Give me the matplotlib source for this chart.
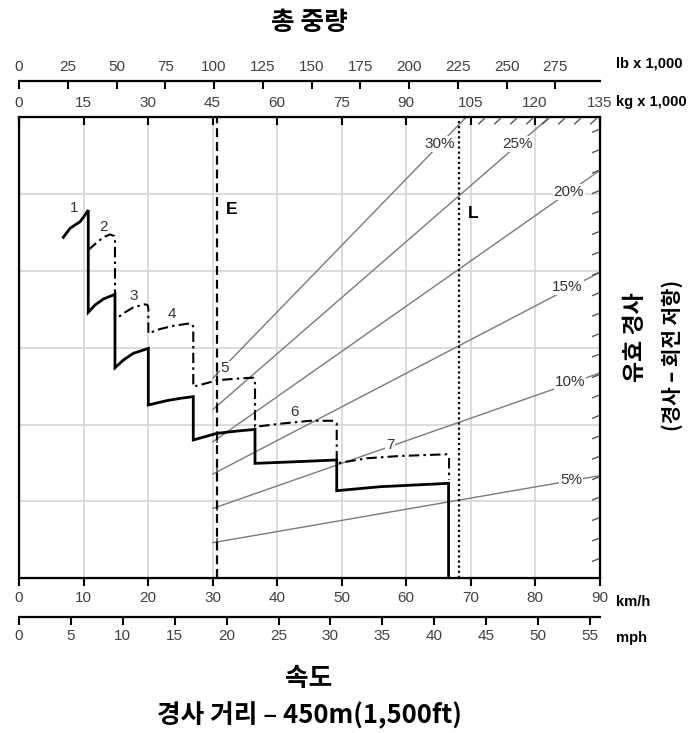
import matplotlib

matplotlib.use("Agg")
import matplotlib.pyplot as plt
import numpy as np
from matplotlib.collections import LineCollection

plt.rcParams["font.family"] = ["Liberation Sans", "Noto Sans CJK KR", "DejaVu Sans"]

# --- scales -----------------------------------------------------------------
KMH_TICKS = [0, 10, 20, 30, 40, 50, 60, 70, 80, 90]
MPH_TICKS = [0, 5, 10, 15, 20, 25, 30, 35, 40, 45, 50, 55]
KG_TICKS = [0, 15, 30, 45, 60, 75, 90, 105, 120, 135]
LB_TICKS = [0, 25, 50, 75, 100, 125, 150, 175, 200, 225, 250, 275]

# --- gear curves (x: km/h, y: chart units, 0..30) -----------------------------
solid_x = [6.87, 7.40, 7.91, 8.68, 9.46, 10.23, 10.74,
           10.74, 11.78, 13.07, 14.88,
           14.88, 16.17, 17.72, 20.05,
           20.05, 22.90, 24.96, 27.02,
           27.02, 30.65, 33.75, 36.59,
           36.59, 42.02, 49.26,
           49.26, 55.97, 66.60,
           66.60]
solid_y = [22.19, 22.49, 22.77, 22.99, 23.20, 23.64, 23.96,
           17.31, 17.78, 18.17, 18.48,
           13.70, 14.20, 14.64, 14.96,
           11.28, 11.56, 11.71, 11.82,
           9.00, 9.43, 9.58, 9.69,
           7.48, 7.57, 7.70,
           5.70, 5.96, 6.18,
           0.0]

dashdot_x = [10.74, 11.78, 13.07, 14.11, 14.77, 14.88, 14.88,
             14.88, 16.17, 17.72, 19.53, 19.92, 20.05, 20.05,
             21.86, 23.92, 26.51, 26.90, 27.02, 27.02,
             30.90, 35.04, 36.33, 36.59, 36.59,
             40.98, 45.12, 48.73, 49.26, 49.26,
             53.91, 59.07, 66.31, 66.67, 66.67]
dashdot_y = [21.36, 21.75, 22.19, 22.38, 22.27, 22.01, 18.54,
             16.81, 17.24, 17.63, 17.83, 17.78, 17.59, 15.94,
             16.22, 16.43, 16.59, 16.51, 16.35, 12.47,
             12.90, 13.03, 13.05, 12.90, 9.86,
             10.08, 10.25, 10.25, 10.08, 7.48,
             7.81, 7.96, 8.07, 7.89, 6.40]

gear_names = ["1", "2", "3", "4", "5", "6", "7"]
gear_lx = [8.53, 13.07, 17.72, 23.67, 31.94, 42.79, 57.52]
gear_ly = [24.07, 22.88, 18.37, 17.20, 13.66, 10.84, 8.67]

# --- effective grade lines ---------------------------------------------------
grade_names = ["5%", "10%", "15%", "20%", "25%", "30%"]
grade_x0 = [30.08, 30.08, 30.08, 30.08, 30.08, 30.08]
grade_y0 = [2.32, 4.55, 6.79, 8.89, 10.99, 13.03]
grade_x1 = [90.0, 90.0, 90.0, 90.0, 82.23, 69.30]
grade_y1 = [6.67, 13.35, 19.90, 26.53, 30.0, 30.0]
grade_lx = [85.58, 85.43, 85.04, 85.27, 77.36, 65.19]
grade_ly = [6.40, 12.77, 18.95, 25.14, 28.26, 28.26]

E_SPEED = 30.74
L_SPEED = 68.26

W, H = 693, 733
fig = plt.figure(figsize=(W / 100, H / 100), dpi=100)


def fx(px):
    return px / W


def fy(py):
    return 1 - py / H


left, right, top, bottom = 19, 599.5, 117.3, 578.3
ax = fig.add_axes([fx(left), fy(bottom), (right - left) / W, (bottom - top) / H])
ax.set_xlim(0, 90)
ax.set_ylim(0, 30)
ax.set_xticks(KMH_TICKS)
ax.set_yticks([5, 10, 15, 20, 25])
ax.set_yticklabels([])
ax.tick_params(axis="y", length=0)
ax.tick_params(axis="x", direction="out", length=6, width=1.5, labelsize=11,
               labelcolor="#404040", pad=3)
ax.grid(color="#d6d6d6", lw=1.2)
ax.set_axisbelow(True)
for s in ax.spines.values():
    s.set_linewidth(1.6)

# grade lines
for x0, y0, x1, y1 in zip(grade_x0, grade_y0, grade_x1, grade_y1):
    ax.plot([x0, x1], [y0, y1], color="#7a7a7a", lw=1.0, zorder=2)
    yE = y0 + (y1 - y0) * (E_SPEED - x0) / (x1 - x0)
    ax.plot([E_SPEED], [yE], marker="|", ms=6, mew=1.2, color="#555555", zorder=2)
for name, lx, ly in zip(grade_names, grade_lx, grade_ly):
    ax.text(lx, ly, name, ha="center", va="center", fontsize=11, color="#333333",
            bbox=dict(facecolor="white", edgecolor="none", pad=0.5), zorder=3)

# E and L limits
ax.axvline(E_SPEED, color="black", lw=1.6, ls=(0, (4, 2.2)), zorder=4)
ax.axvline(L_SPEED, color="black", lw=1.6, ls=(0, (1, 1.3)), zorder=4)
ax.text(32.98, 24.01, "E", fontsize=12.5, fontweight="bold", ha="center", va="center")
ax.text(70.43, 23.75, "L", fontsize=12.5, fontweight="bold", ha="center", va="center")

# gear curves
ax.plot(dashdot_x, dashdot_y, color="black", lw=1.5, ls=(0, (5, 2, 1.2, 2)), zorder=5)
ax.plot(solid_x, solid_y, color="black", lw=2.0, zorder=6, solid_joinstyle="miter")
for name, lx, ly in zip(gear_names, gear_lx, gear_ly):
    ax.text(lx, ly, name, ha="center", va="center", fontsize=11, color="#333333",
            bbox=dict(facecolor="white", edgecolor="none", pad=0.3), zorder=3)

# hatch marks along right edge and top-right edge
hy = np.linspace(0.043, 0.974, 22)
segs = [[(1 - 7.5 / 580.5, y - 3 / 461), (1, y)] for y in hy]
hx = np.linspace(0.791, 0.984, 8)
segs += [[(x, 1 - 7 / 461), (x + 6.5 / 580.5, 1 - 1 / 461)] for x in hx]
ax.add_collection(LineCollection(segs, colors="#555555", lw=1.0,
                                 transform=ax.transAxes, zorder=3))

# kg scale on top of the box
ax_kg = ax.twiny()
ax_kg.set_xlim(0, 135)
ax_kg.set_xticks(KG_TICKS)
ax_kg.tick_params(axis="x", direction="in", length=6, width=1.5, labelsize=11,
                  labelcolor="#404040", pad=5)

# lb scale
ax_lb = fig.add_axes([fx(left), fy(80.7), (right - left) / W, 0.0001])
ax_lb.set_xlim(0, 135 * 2.20462)
ax_lb.set_xticks(LB_TICKS)
ax_lb.set_yticks([])
ax_lb.xaxis.tick_top()
ax_lb.tick_params(axis="x", direction="in", length=6, width=1.5, labelsize=11,
                  labelcolor="#404040", pad=5)
for k in ["left", "right", "bottom"]:
    ax_lb.spines[k].set_visible(False)
ax_lb.spines["top"].set_linewidth(1.6)
ax_lb.patch.set_visible(False)

# mph scale
ax_mph = fig.add_axes([fx(left), fy(616.7), (right - left) / W, 0.0001])
ax_mph.set_xlim(0, 90 / 1.609344)
ax_mph.set_xticks(MPH_TICKS)
ax_mph.set_yticks([])
ax_mph.tick_params(axis="x", direction="out", length=5.5, width=1.5, labelsize=11,
                   labelcolor="#404040", pad=3)
for k in ["left", "right", "top"]:
    ax_mph.spines[k].set_visible(False)
ax_mph.spines["bottom"].set_linewidth(1.6)
ax_mph.patch.set_visible(False)

# unit labels
for txt, py in [("lb x 1,000", 63), ("kg x 1,000", 102), ("km/h", 601.7), ("mph", 638.3)]:
    fig.text(fx(616), fy(py), txt, ha="left", va="center", fontsize=10.6, fontweight="bold")

ko = ["Noto Sans CJK KR", "DejaVu Sans"]
fig.text(fx(309), fy(22), "총 중량", ha="center", va="center", fontsize=18.5,
         fontweight="bold", family=ko)
fig.text(fx(309), fy(678), "속도", ha="center", va="center", fontsize=18.5,
         fontweight="bold", family=ko)
fig.text(fx(309), fy(716), "경사 거리 – 450m(1,500ft)", ha="center", va="center",
         fontsize=18.5, fontweight="bold", family=ko)
fig.text(fx(635), fy(337), "유효 경사", ha="center", va="center", fontsize=16.5,
         fontweight="bold", rotation=90, family=ko)
fig.text(fx(671.7), fy(355), "(경사 – 회전 저항)", ha="center", va="center", fontsize=14.5,
         fontweight="bold", rotation=90, family=ko)

fig.savefig("out.png", dpi=100)
